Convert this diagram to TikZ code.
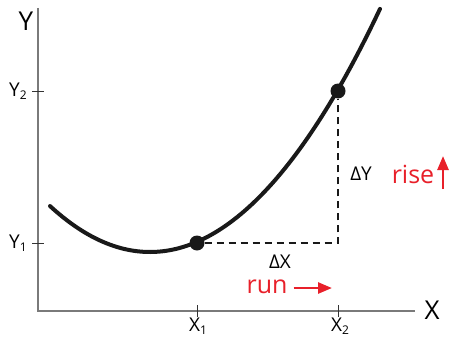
\documentclass[tikz,border=0pt]{standalone}
\usepackage{fontspec}
\setmainfont{Open Sans}
\usepackage{tikz}
\usetikzlibrary{positioning,arrows.meta,calc}
\definecolor{axisgray}{HTML}{7A7A7A}
\definecolor{runred}{HTML}{E8202A}
\newcommand\lowidx[1]{\raisebox{-0.25ex}{\fontsize{12}{12}\selectfont #1}}

\begin{document}
\begin{tikzpicture}[x=1pt,y=-1pt, >=Triangle,
  axis/.style={draw=axisgray,line width=1.6pt},
  tick/.style={draw=black!80,line width=1pt},
  curve/.style={draw=black!90,line width=4pt,line cap=round},
  dot/.style={circle,fill=black!90,inner sep=0pt,minimum size=15pt},
  guide/.style={draw=black!90,line width=2pt,dash pattern=on 7pt off 5pt},
  lab/.style={inner sep=0pt,font=\fontsize{19}{19}\selectfont},
  big/.style={inner sep=0pt,font=\fontsize{26}{26}\selectfont},
  note/.style={inner sep=0pt,text=runred,font=\fontsize{25}{25}\selectfont}]
  \useasboundingbox (0,0) rectangle (449,337);
  % axes
  \coordinate (O) at (38,311);
  \coordinate (ytop) at (38,8);
  \coordinate (xend) at (415,311);
  \draw[axis] (ytop) -- (O) -- (xend);
  \node[big] (Y) at (26,21) {Y};
  \node[big] (X) at (432,310) {X};
  % ticks
  \draw[tick] (32,91) -- (44,91);
  \draw[tick] (32,243) -- (44,243);
  \draw[tick] (197,305) -- (197,317);
  \draw[tick] (338,305) -- (338,317);
  \node[lab] (Y2) at (18,91) {Y\lowidx{2}};
  \node[lab] (Y1) at (18,243) {Y\lowidx{1}};
  \node[lab] (X1) at (198,326) {X\lowidx{1}};
  \node[lab] (X2) at (340,326) {X\lowidx{2}};
  % curve
  \draw[curve] plot[domain=50:380,samples=80,smooth] (\x,{252-((\x-150)*0.0678)*((\x-150)*0.0678)});
  \node[dot] (P1) at (197,243) {};
  \node[dot] (P2) at (338,91) {};
  \coordinate (C) at (338,243);
  \draw[guide] (P1) -- (C) -- (P2);
  \node[lab] (dX) at (280,262) {ΔX};
  \node[lab] (dY) at (361,174) {ΔY};
  % run and rise
  \node[note] (run) at (267,287) {run};
  \coordinate (runend) at (332,288);
  \draw[runred,line width=2.6pt,-{Triangle[length=14pt,width=11pt]}] ($(run.east)+(6,1)$) -- (runend);
  \node[note] (rise) at (413,174) {rise};
  \coordinate (risetop) at (443,156);
  \draw[runred,line width=2.6pt,-{Triangle[length=14pt,width=11pt]}] (443,189) -- (risetop);
\end{tikzpicture}
\end{document}
